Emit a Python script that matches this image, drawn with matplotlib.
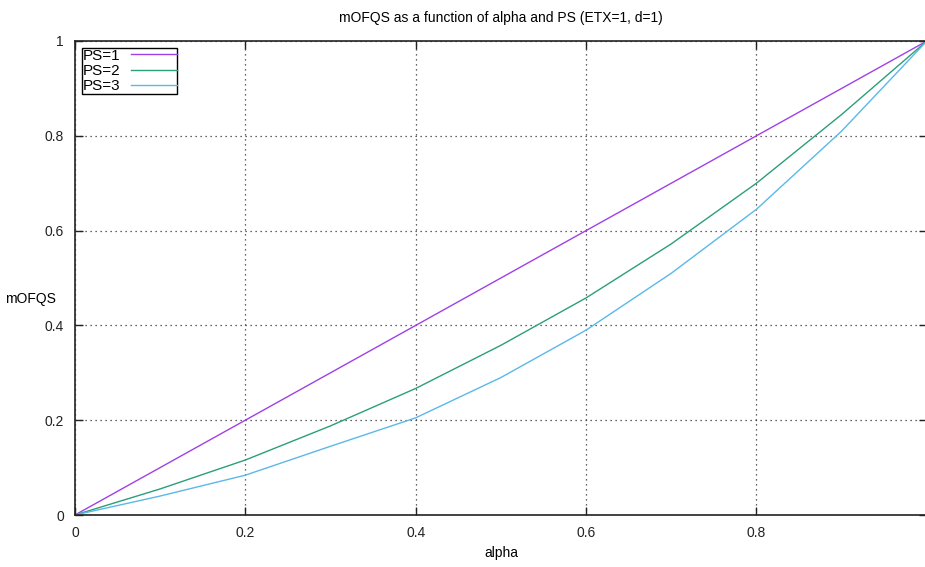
import matplotlib
matplotlib.use("Agg")
import matplotlib.pyplot as plt

# values
alpha = [0.0, 0.1, 0.2, 0.3, 0.4, 0.5, 0.6, 0.7, 0.8, 0.9, 1.0]
ps1 = [0.0, 0.1, 0.2, 0.3, 0.4, 0.5, 0.6, 0.7, 0.8, 0.9, 1.0]
ps2 = [0.0, 0.055, 0.116, 0.188, 0.267, 0.358, 0.458, 0.572, 0.700, 0.845, 1.0]
ps3 = [0.0, 0.040, 0.084, 0.145, 0.205, 0.290, 0.390, 0.510, 0.645, 0.810, 1.0]
labels = ["PS=1", "PS=2", "PS=3"]
colors = ["#a040e6", "#2b9e7a", "#5ab8ea"]
xticks = [0, 0.2, 0.4, 0.6, 0.8]
yticks = [0, 0.2, 0.4, 0.6, 0.8, 1]

plt.rcParams['font.family'] = ['Liberation Sans', 'DejaVu Sans']
plt.rcParams['font.size'] = 10

fig = plt.figure(figsize=(9.25, 5.67), dpi=100)
ax = fig.add_axes([0.081, 0.0917, 0.921, 0.836])

for ys, lab, c in zip([ps1, ps2, ps3], labels, colors):
    ax.plot(alpha, ys, color=c, lw=1.0, label=lab)

ax.set_xlim(0, 1)
ax.set_ylim(0, 1)
ax.set_xticks(xticks)
ax.set_xticklabels(["0", "0.2", "0.4", "0.6", "0.8"])
ax.set_yticks(yticks)
ax.set_yticklabels(["0", "0.2", "0.4", "0.6", "0.8", "1"])
ax.tick_params(direction='in', length=6, width=1, top=True, right=True,
               labelsize=10, pad=8, colors='#222222')
ax.grid(True, color='#333333', linestyle=(0, (1, 3)), linewidth=0.9)
for s in ax.spines.values():
    s.set_linewidth(1.2)
    s.set_color('#222222')

ax.set_title("mOFQS as a function of alpha and PS (ETX=1, d=1)", fontsize=10, pad=14)
ax.set_xlabel("alpha", fontsize=10, labelpad=4)
ax.set_ylabel("mOFQS", fontsize=10, rotation=0, ha='center', va='center')
ax.yaxis.set_label_coords(-0.052, 0.455)

leg = ax.legend(loc='upper left', markerfirst=False, fancybox=False,
                edgecolor='black', framealpha=1, fontsize=11,
                handlelength=3.0, handletextpad=0.7, labelspacing=0.08,
                borderpad=0.05, borderaxespad=0.45)
leg.get_frame().set_linewidth(1.0)

fig.savefig("out.png", dpi=100)
